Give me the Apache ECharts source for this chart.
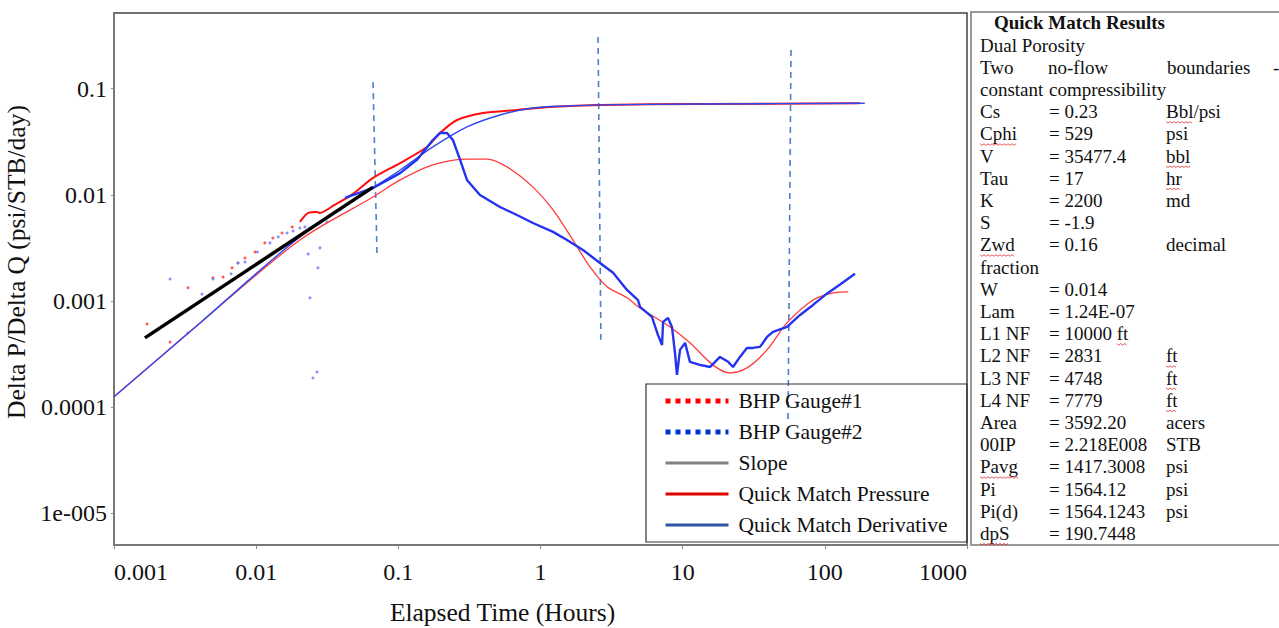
<!DOCTYPE html>
<html>
<head>
<meta charset="utf-8">
<script src="https://cdn.jsdelivr.net/npm/echarts@6/dist/echarts.min.js"></script>
<style>
html, body { margin: 0; padding: 0; background: #fff; }
#chart { width: 1279px; height: 628px; }
</style>
</head>
<body>
<div id="chart"></div>
<script>
// elapsed time (hours) vs delta P / delta Q
var gauge1Dots = [[0.00171,0.000607],[0.00248,0.000411],[0.00331,0.00133],[0.00497,0.00165],[0.00585,0.00168],
  [0.00677,0.00205],[0.00745,0.00228],[0.00834,0.00254],[0.00982,0.00289],[0.0115,0.00352],[0.0131,0.00392],
  [0.0152,0.00437],[0.0179,0.00498]];
var gauge1Line = [[0.0203,0.00555],[0.0232,0.00674],[0.0268,0.00689],[0.0281,0.00674],[0.0347,0.00785],
  [0.048,0.0102],[0.0664,0.0144],[0.103,0.0199],[0.159,0.0282],[0.1965,0.0382],[0.259,0.0506],[0.394,0.0589],
  [0.683,0.0629],[1.167,0.0671],[2.62,0.0702],[13.2,0.0716],[176,0.0727]];
var gauge2Dots = [[0.00248,0.00161],[0.00331,0.0005],[0.00416,0.00116],[0.00497,0.00161],[0.00666,0.0018],
  [0.00745,0.00228],[0.00834,0.00233],[0.00935,0.00209],[0.0102,0.00289],[0.0125,0.00352],[0.0143,0.00401],
  [0.0165,0.00437],[0.0182,0.00456],[0.0203,0.00487],[0.022,0.00498],[0.0232,0.00277],[0.0239,0.00107],
  [0.0251,0.000188],[0.0268,0.000214],[0.0272,0.00205],[0.0281,0.00316],[0.0315,0.00555],[0.0389,0.00719]];
var gauge2Deriv = [[0.0422,0.00933],[0.0664,0.0116],[0.103,0.016],[0.135,0.0213],[0.175,0.0328],[0.1965,0.0382],
  [0.22,0.0382],[0.242,0.0328],[0.272,0.0213],[0.304,0.0138],[0.375,0.00996],[0.519,0.00767],[0.683,0.00645],
  [0.885,0.00542],[1.225,0.00447],[1.536,0.00375],[1.99,0.00302],[2.62,0.00228],[3.24,0.00184],[4.06,0.00127],
  [4.85,0.00102],[5.01,0.000878],[6.08,0.000707],[6.7,0.000479],[7.16,0.000385],[7.28,0.000634],[7.89,0.000692],
  [8.41,0.000569],[8.83,0.000324],[9.12,0.000201],[9.58,0.000346],[10.4,0.000403],[11.25,0.000267],[13.2,0.00025],
  [15.6,0.000239],[18.3,0.000297],[20.9,0.000267],[22.6,0.000239],[25.3,0.000297],[28.3,0.000361],[31.2,0.000361],
  [35.0,0.000369],[39.2,0.000458],[43.2,0.000511],[54.2,0.000569],[67.0,0.000738],[82.6,0.000917],[105,0.00119],
  [128,0.00143],[163,0.0018]];
var modelPressure = [[0.001,0.000125],[0.00403,0.000621],[0.0203,0.00401],[0.0664,0.0116],[0.103,0.0171],
  [0.175,0.0282],[0.304,0.0435],[0.519,0.0564],[0.885,0.0657],[1.54,0.0686],[2.62,0.0702],[13.2,0.0716],[191,0.0727]];
var modelDeriv = [[0.001,0.000125],[0.00403,0.000621],[0.0203,0.00375],[0.0664,0.00953],[0.103,0.0138],
  [0.175,0.0191],[0.304,0.0217],[0.421,0.0217],[0.581,0.0183],[0.885,0.0118],[1.225,0.00719],[1.69,0.00375],
  [2.23,0.00209],[2.94,0.00136],[4.06,0.00107],[5.01,0.000859],[8.15,0.000569],[11.25,0.000403],[16.3,0.00025],
  [21.5,0.00021],[28.3,0.000234],[39.2,0.000346],[54.2,0.000621],[82.6,0.00102],[114,0.00119],[146,0.00122]];
var slopeLine = [[0.00165,0.000449],[0.0664,0.0118]];
var boundaries = [
  [[0.0664,0.115],[0.0708,0.00271]],
  [[2.54,0.306],[2.66,0.00043]],
  [[57.8,0.231],[55.1,0.0000726]]
];
var regionLabels = [['1',0.0125,0.0118],['2',0.319,0.101],['3',10.5,0.147],['4',126,0.156]];

var legendNames = ['BHP Gauge#1', 'BHP Gauge#2', 'Slope', 'Quick Match Pressure', 'Quick Match Derivative'];

var panelTitle = 'Quick Match Results';
var panelRows = [
  ['Dual Porosity'],
  ['Two', 'no-flow', 'boundaries', '-'],
  ['constant', 'compressibility'],
  ['Cs', '= 0.23', 'Bbl/psi'],
  ['Cphi', '= 529', 'psi'],
  ['V', '= 35477.4', 'bbl'],
  ['Tau', '= 17', 'hr'],
  ['K', '= 2200', 'md'],
  ['S', '= -1.9', ''],
  ['Zwd', '= 0.16', 'decimal'],
  ['fraction'],
  ['W', '= 0.014', ''],
  ['Lam', '= 1.24E-07', ''],
  ['L1 NF', '= 10000 ft', ''],
  ['L2 NF', '= 2831', 'ft'],
  ['L3 NF', '= 4748', 'ft'],
  ['L4 NF', '= 7779', 'ft'],
  ['Area', '= 3592.20', 'acers'],
  ['00IP', '= 2.218E008', 'STB'],
  ['Pavg', '= 1417.3008', 'psi'],
  ['Pi', '= 1564.12', 'psi'],
  ['Pi(d)', '= 1564.1243', 'psi'],
  ['dpS', '= 190.7448', '']
];
var flaggedWords = ['Cphi', 'Bbl', 'bbl', 'hr', 'Zwd', 'ft', 'Pavg', 'dpS'];

var serif = 'Liberation Serif';

function logLabel(v) {
  var e = Math.round(Math.log(v) / Math.LN10);
  if (e <= -5) return '1e-00' + (-e);
  if (e >= 0) return String(Math.pow(10, e));
  return '0.' + new Array(-e).join('0') + '1';
}

// right hand results panel
var measureCtx = document.createElement('canvas').getContext('2d');
measureCtx.font = '19px "' + serif + '"';
var panel = [{
  type: 'rect', shape: { x: 971, y: 12, width: 330, height: 533 },
  style: { fill: '#fff', stroke: '#9a9a9a', lineWidth: 2 }
}, {
  type: 'text', x: 994, y: 22,
  style: { text: panelTitle, fontFamily: serif, fontSize: 19, fontWeight: 'bold', fill: '#111', verticalAlign: 'middle' }
}];
var colX = [980, 1049, 1166];
var wideX = [980, 1048, 1167, 1273];
panelRows.forEach(function (row, i) {
  var y = 45 + i * 22.2;
  var xs = row.length === 4 ? wideX : colX;
  row.forEach(function (cell, j) {
    if (!cell) return;
    panel.push({
      type: 'text', x: xs[j], y: y,
      style: { text: cell, fontFamily: serif, fontSize: 19, fill: '#111', verticalAlign: 'middle' }
    });
    flaggedWords.forEach(function (w) {
      var m = new RegExp('\\b' + w + '\\b').exec(cell);
      if (!m) return;
      var x0 = xs[j] + measureCtx.measureText(cell.slice(0, m.index)).width;
      var ww = measureCtx.measureText(w).width;
      var pts = [];
      for (var k = 0; k <= ww; k += 2) pts.push([x0 + k, y + 10 + (k / 2 % 2 ? 1.5 : 0)]);
      panel.push({ type: 'polyline', shape: { points: pts }, style: { stroke: '#e03030', lineWidth: 0.8, fill: null } });
    });
  });
});
// legend frame
panel.push({
  type: 'rect', z: 50, shape: { x: 646, y: 384, width: 321, height: 158 },
  style: { fill: null, stroke: '#333', lineWidth: 1.2 }
});

var series = [
  { name: 'BHP Gauge#1 dots', type: 'scatter', data: gauge1Dots, symbolSize: 3, itemStyle: { color: '#ff3030' }, z: 3 },
  { name: 'BHP Gauge#2 dots', type: 'scatter', data: gauge2Dots, symbolSize: 3, itemStyle: { color: '#6a78ff' }, z: 3 },
  { name: 'Quick Match Derivative', type: 'line', data: modelDeriv, symbol: 'none', smooth: 0.3,
    lineStyle: { color: '#ff3a3a', width: 1.3 }, z: 4 },
  { name: 'BHP Gauge#1', type: 'line', data: gauge1Line, symbol: 'none', smooth: 0.25,
    lineStyle: { color: '#ff1010', width: 2 }, z: 4 },
  { name: 'Quick Match Pressure', type: 'line', data: modelPressure, symbol: 'none', smooth: 0.3,
    lineStyle: { color: '#3048f0', width: 1.4 }, z: 5 },
  { name: 'BHP Gauge#2', type: 'line', data: gauge2Deriv, symbol: 'none',
    lineStyle: { color: '#2434ee', width: 2.4 }, z: 5 },
  { name: 'Slope', type: 'line', data: slopeLine, symbol: 'none',
    lineStyle: { color: '#000', width: 3.5 }, z: 6 }
];
boundaries.forEach(function (b, i) {
  series.push({ name: 'boundary' + (i + 1), type: 'line', data: b, symbol: 'none', z: 2,
    lineStyle: { color: '#4f7fc6', width: 1.6, type: [6, 5] } });
});
series.push({
  name: 'regions', type: 'scatter', z: 7, symbolSize: 1, itemStyle: { opacity: 0 },
  data: regionLabels.map(function (r) { return { name: r[0], value: [r[1], r[2]] }; }),
  label: { show: true, position: 'inside', formatter: '{b}', fontFamily: 'Open Sans', fontSize: 14, color: '#222' }
});

var legendStyles = [
  { color: '#ff0000', width: 5, type: [5, 5] },
  { color: '#0033cc', width: 5, type: [5, 5] },
  { color: '#808080', width: 3, type: 'solid' },
  { color: '#e00000', width: 3, type: 'solid' },
  { color: '#2f56a6', width: 3, type: 'solid' }
];

var chart = echarts.init(document.getElementById('chart'), null, { renderer: 'svg' });
chart.setOption({
  animation: false,
  backgroundColor: '#fff',
  grid: { left: 114, right: 312, top: 13, bottom: 83, show: true, borderColor: '#444', borderWidth: 1.5,
    outerBoundsMode: 'none', containLabel: false },
  xAxis: {
    type: 'log', logBase: 10, min: 0.001, max: 1000,
    name: 'Elapsed Time (Hours)', nameLocation: 'middle', nameGap: 54,
    nameTextStyle: { fontFamily: serif, fontSize: 25.5, color: '#111', padding: [0, 76, 0, 0] },
    axisLine: { show: true, lineStyle: { color: '#777', width: 2 } },
    axisTick: { show: true, length: 4, lineStyle: { color: '#888' } },
    axisLabel: { fontFamily: serif, fontSize: 24, color: '#111', margin: 15, formatter: logLabel,
      alignMinLabel: 'left', alignMaxLabel: 'right' },
    splitLine: { show: false }
  },
  yAxis: {
    type: 'log', logBase: 10, min: 5.03e-6, max: 0.515,
    name: 'Delta P/Delta Q (psi/STB/day)', nameLocation: 'middle', nameGap: 78,
    nameTextStyle: { fontFamily: serif, fontSize: 25.5, color: '#111', padding: [0, 0, 0, 34] },
    axisLine: { show: true, lineStyle: { color: '#777', width: 2 } },
    axisTick: { show: true, length: 3, lineStyle: { color: '#888' } },
    axisLabel: { fontFamily: serif, fontSize: 24, color: '#111', margin: 7, formatter: logLabel,
      showMinLabel: false, showMaxLabel: false },
    splitLine: { show: false }
  },
  legend: {
    orient: 'vertical', left: 663, top: 390, padding: 0, itemWidth: 63, itemHeight: 14, itemGap: 9,
    selectedMode: false,
    textStyle: { fontFamily: serif, fontSize: 21.5, color: '#111', lineHeight: 20, padding: [0, 0, 0, 5] },
    data: legendNames.map(function (n, i) {
      return { name: n, itemStyle: { opacity: 0 }, lineStyle: legendStyles[i] };
    })
  },
  graphic: panel,
  series: series
});
</script>
</body>
</html>
